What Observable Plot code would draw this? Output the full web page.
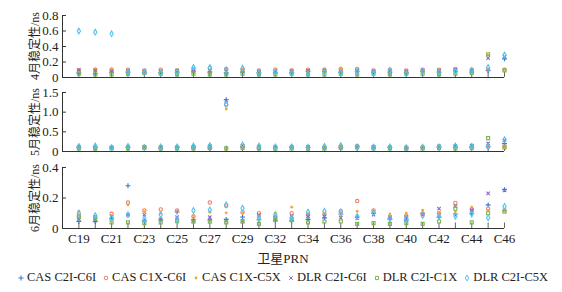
<!DOCTYPE html>
<html><head><meta charset="utf-8">
<script src="https://cdn.jsdelivr.net/npm/d3@7"></script>
<script src="https://cdn.jsdelivr.net/npm/@observablehq/plot@0.6"></script>
<style>
body{margin:0;background:#fff;width:562px;height:292px;position:relative;overflow:hidden;font-family:"Liberation Serif","Times New Roman",Times,"DejaVu Serif","Noto Sans CJK SC",serif;}
.panel{position:absolute;left:0;}
.panel svg{overflow:visible;background:transparent;}
#xtitle{position:absolute;left:0;width:566px;top:248px;text-align:center;font-size:13px;color:#222;}
#legend{position:absolute;left:0;width:566px;top:270px;display:flex;justify-content:center;gap:7px;font-size:12.5px;color:#222;}
#legend .item{display:flex;align-items:center;gap:3px;}
.ylab{position:absolute;font-size:12px;color:#222;white-space:nowrap;transform:translate(-50%,-50%) rotate(-90deg);line-height:14px;}
</style></head><body>
<div id="p1" class="panel" style="top:0"></div>
<div id="p2" class="panel" style="top:85px"></div>
<div id="p3" class="panel" style="top:159px"></div>
<div id="xtitle">卫星PRN</div>
<div id="legend"></div>
<script>
// ---- data ----
const categories = ["C19","C20","C21","C22","C23","C24","C25","C26","C27","C28","C29","C30","C32","C33","C34","C35","C36","C37","C38","C39","C40","C41","C42","C43","C44","C45","C46"];
const seriesNames = ["CAS C2I-C6I","CAS C1X-C6I","CAS C1X-C5X","DLR C2I-C6I","DLR C2I-C1X","DLR C2I-C5X"];
const panelLabels = ["4月稳定性/ns","5月稳定性/ns","6月稳定性/ns"];
const yTicks1 = [0,0.2,0.4,0.6,0.8];
const yTicks2 = [0,0.5,1.0,1.5];
const yTicks3 = [0,0.2,0.4];
const xTickLabels = ["C19","C21","C23","C25","C27","C29","C32","C34","C36","C38","C40","C42","C44","C46"];

// April
const apr_cas_c2i_c6i = [0.06,0.05,0.07,0.07,0.06,0.06,0.07,0.08,0.07,0.06,0.07,0.06,0.06,0.06,0.08,0.08,0.07,0.08,0.07,0.07,0.06,0.08,0.07,0.08,0.07,0.09,0.24];
const apr_cas_c1x_c6i = [0.09,0.10,0.10,0.10,0.09,0.10,0.09,0.11,0.12,0.11,0.10,0.09,0.10,0.09,0.10,0.10,0.11,0.11,0.09,0.10,0.09,0.10,0.10,0.11,0.10,0.10,0.10];
const apr_cas_c1x_c5x = [0.08,0.11,0.11,0.09,0.08,0.09,0.10,0.10,0.09,0.11,0.10,0.09,0.08,0.10,0.09,0.11,0.12,0.08,0.09,0.10,0.07,0.09,0.10,0.10,0.11,0.29,0.11];
const apr_dlr_c2i_c6i = [0.10,0.09,0.08,0.09,0.08,0.08,0.09,0.08,0.09,0.08,0.09,0.07,0.08,0.08,0.09,0.09,0.08,0.09,0.08,0.08,0.08,0.09,0.09,0.10,0.09,0.25,0.27];
const apr_dlr_c2i_c1x = [0.05,0.04,0.04,0.05,0.06,0.05,0.04,0.05,0.04,0.04,0.05,0.04,0.04,0.05,0.04,0.04,0.05,0.04,0.05,0.04,0.05,0.05,0.04,0.05,0.06,0.30,0.09];
const apr_dlr_c2i_c5x = [0.60,0.585,0.565,0.07,0.07,0.06,0.07,0.13,0.13,0.10,0.12,0.06,0.07,0.06,0.05,0.07,0.06,0.08,0.06,0.09,0.05,0.08,0.07,0.08,0.09,0.13,0.29];

// May
const may_cas_c2i_c6i = [0.10,0.11,0.09,0.10,0.10,0.09,0.11,0.10,0.09,1.32,0.11,0.09,0.10,0.11,0.10,0.09,0.10,0.12,0.09,0.10,0.09,0.10,0.11,0.10,0.10,0.12,0.20];
const may_cas_c1x_c6i = [0.11,0.10,0.11,0.12,0.12,0.10,0.11,0.12,0.13,1.19,0.13,0.12,0.11,0.12,0.11,0.11,0.13,0.14,0.12,0.11,0.10,0.11,0.12,0.13,0.14,0.12,0.13];
const may_cas_c1x_c5x = [0.09,0.12,0.10,0.14,0.11,0.10,0.12,0.10,0.12,1.08,0.12,0.11,0.10,0.11,0.10,0.12,0.12,0.11,0.13,0.10,0.09,0.10,0.11,0.12,0.13,0.10,0.12];
const may_dlr_c2i_c6i = [0.12,0.09,0.10,0.11,0.12,0.11,0.10,0.11,0.13,1.29,0.14,0.12,0.11,0.10,0.12,0.10,0.11,0.12,0.11,0.10,0.09,0.10,0.13,0.14,0.15,0.21,0.28];
const may_dlr_c2i_c1x = [0.08,0.07,0.08,0.08,0.09,0.07,0.08,0.08,0.09,0.08,0.09,0.08,0.07,0.08,0.07,0.08,0.09,0.10,0.08,0.08,0.07,0.08,0.09,0.08,0.09,0.34,0.10];
const may_dlr_c2i_c5x = [0.13,0.14,0.10,0.13,0.10,0.12,0.12,0.14,0.15,1.20,0.17,0.14,0.12,0.12,0.11,0.13,0.15,0.12,0.11,0.12,0.10,0.11,0.12,0.14,0.13,0.13,0.30];

// June
const jun_cas_c2i_c6i = [0.046,0.045,0.063,0.28,0.05,0.057,0.108,0.057,0.057,0.06,0.075,0.057,0.05,0.05,0.06,0.07,0.095,0.074,0.10,0.06,0.055,0.10,0.074,0.095,0.10,0.155,0.255];
const jun_cas_c1x_c6i = [0.085,0.075,0.096,0.17,0.118,0.125,0.118,0.079,0.17,0.15,0.107,0.10,0.075,0.10,0.09,0.095,0.113,0.18,0.118,0.07,0.08,0.095,0.10,0.168,0.125,0.13,0.12];
const jun_cas_c1x_c5x = [0.113,0.07,0.085,0.155,0.11,0.10,0.07,0.085,0.107,0.103,0.10,0.08,0.10,0.14,0.095,0.09,0.085,0.113,0.115,0.095,0.10,0.12,0.105,0.11,0.14,0.118,0.125];
const jun_dlr_c2i_c6i = [0.063,0.06,0.075,0.09,0.09,0.06,0.074,0.05,0.074,0.052,0.05,0.09,0.07,0.08,0.08,0.08,0.07,0.068,0.09,0.075,0.075,0.09,0.13,0.145,0.12,0.23,0.25];
const jun_dlr_c2i_c1x = [0.074,0.065,0.04,0.04,0.035,0.04,0.048,0.044,0.044,0.04,0.045,0.03,0.06,0.055,0.04,0.046,0.046,0.03,0.035,0.03,0.035,0.03,0.046,0.13,0.04,0.10,0.11];
const jun_dlr_c2i_c5x = [0.10,0.085,0.07,0.09,0.063,0.09,0.06,0.118,0.122,0.155,0.133,0.07,0.09,0.07,0.108,0.113,0.11,0.08,0.105,0.065,0.065,0.085,0.08,0.08,0.095,0.07,0.145];

// ---- styles ----
const seriesStyle = [
  {color:"#2b7bd6", symbol:"plus", open:true},
  {color:"#f08068", symbol:"circle", open:true},
  {color:"#f7a531", symbol:"circle", open:false},
  {color:"#8a68c6", symbol:"times", open:true},
  {color:"#7cb64e", symbol:"square", open:true},
  {color:"#4ec4f0", symbol:"diamond", open:true}
];
const FONT = '"Liberation Serif","Times New Roman",Times,"DejaVu Serif","Noto Sans CJK SC",serif';
const idx = categories.map((c,i)=>i);
const panelTops = [0, 85, 159];

function panel(n, values, yTicks, height, mt, mb, showX){
  const ymax = yTicks[yTicks.length-1];
  const marks = [];
  marks.push(Plot.ruleX(idx, {x:d=>d, y1:0, y2:ymax*0.09, stroke:"#666", strokeWidth:1}));
  values.forEach((arr, s) => {
    const st = seriesStyle[s];
    const data = arr.map((v,i)=>({i, v}));
    const opts = {x:"i", y:"v", symbol:st.symbol, r: st.symbol==="circle" && !st.open ? 1.4 : 1.7};
    if (st.open) { opts.stroke = st.color; opts.fill = "none"; opts.strokeWidth = 1.1; }
    else { opts.fill = st.color; opts.stroke = "none"; }
    marks.push(Plot.dot(data, opts));
  });
  marks.push(Plot.ruleY([0], {stroke:"#333", strokeWidth:1}));
  marks.push(Plot.ruleX([-1], {stroke:"#333", strokeWidth:1}));
  marks.push(Plot.ruleY(yTicks, {y:d=>d, x1:-1, x2:-0.76, stroke:"#333", strokeWidth:1}));
  marks.push(Plot.axisY({ticks:yTicks, tickSize:0, tickPadding:4, label:null, fontSize:13,
    tickFormat: d => d===0 ? "0" : d.toFixed(1)}));
  if (showX) {
    marks.push(Plot.axisX({ticks: idx.filter(i=>i%2===0), tickSize:0, tickPadding:5, label:null, fontSize:13,
      tickFormat: i => xTickLabels[i/2]}));
  }
  const svg = Plot.plot({
    width:562, height, marginLeft:62, marginRight:58, marginTop:mt, marginBottom:mb,
    style:{fontFamily:FONT, fontSize:"13px", color:"#222", background:"transparent", overflow:"visible"},
    x:{domain:[-1, categories.length-1], axis:null},
    y:{domain:[0, ymax], axis:null},
    marks
  });
  document.getElementById("p"+(n+1)).appendChild(svg);
  const lab = document.createElement("div");
  lab.className = "ylab";
  lab.textContent = panelLabels[n];
  lab.style.left = "35px";
  lab.style.top = (panelTops[n] + mt + (height - mt - mb)/2) + "px";
  document.body.appendChild(lab);
}

panel(0, [apr_cas_c2i_c6i,apr_cas_c1x_c6i,apr_cas_c1x_c5x,apr_dlr_c2i_c6i,apr_dlr_c2i_c1x,apr_dlr_c2i_c5x], yTicks1, 85, 15, 8, false);
panel(1, [may_cas_c2i_c6i,may_cas_c1x_c6i,may_cas_c1x_c5x,may_dlr_c2i_c6i,may_dlr_c2i_c1x,may_dlr_c2i_c5x], yTicks2, 74, 7, 8, false);
panel(2, [jun_cas_c2i_c6i,jun_cas_c1x_c6i,jun_cas_c1x_c5x,jun_dlr_c2i_c6i,jun_dlr_c2i_c1x,jun_dlr_c2i_c5x], yTicks3, 100, 8, 31, true);

// legend
const leg = document.getElementById("legend");
seriesNames.forEach((name, s) => {
  const st = seriesStyle[s];
  const item = document.createElement("div"); item.className = "item";
  const sym = {plus:d3.symbolPlus, circle:d3.symbolCircle, times:d3.symbolTimes, square:d3.symbolSquare, diamond:d3.symbolDiamond}[st.symbol];
  const path = d3.symbol(sym, st.symbol==="circle" && !st.open ? 6 : 10)();
  const paint = st.open ? `fill="none" stroke="${st.color}" stroke-width="1"` : `fill="${st.color}"`;
  item.innerHTML = `<svg width="6" height="8" viewBox="-3 -4 6 8"><path d="${path}" ${paint}/></svg><span>${name}</span>`;
  leg.appendChild(item);
});
</script>
</body></html>
